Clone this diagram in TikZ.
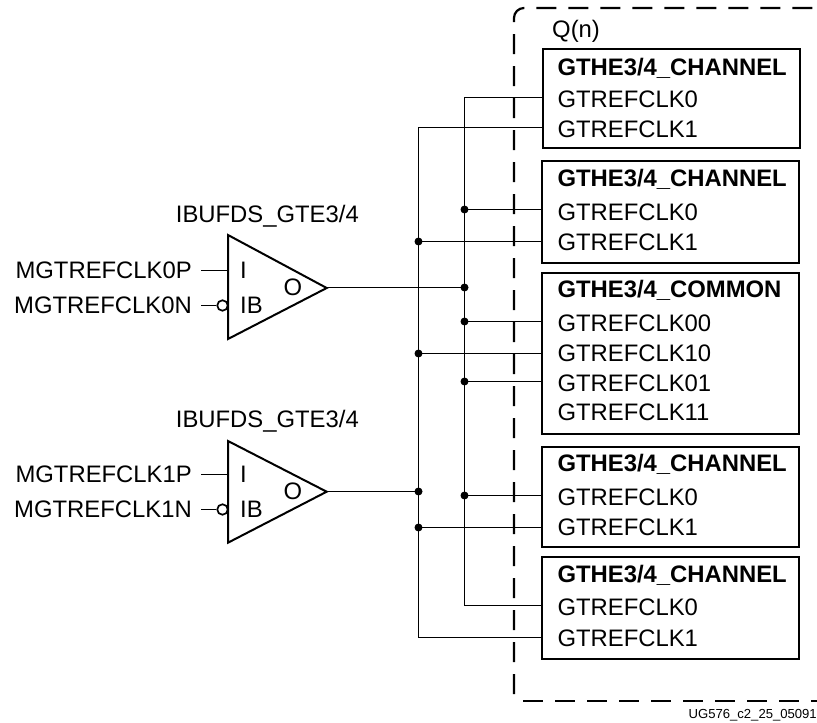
\documentclass[tikz,border=0pt]{standalone}
\usepackage{fontspec}
\setmainfont{Liberation Sans}
\tikzset{
  wire/.style={line width=1.2pt,line cap=rect},
  stub/.style={line width=1.5pt},
  qedge/.style={line width=2.2pt,dash pattern=on 20pt off 12pt,rounded corners=10pt},
  chanbox/.style={draw,line width=2.2pt,minimum width=257pt,inner sep=0pt},
  buffer/.style={line width=2pt,line join=miter},
  lbl/.style={font=\fontsize{23.85}{28}\selectfont,inner sep=0pt,text height=17pt,text depth=0pt},
  ttl/.style={lbl,font=\fontsize{23.85}{28}\selectfont\bfseries},
  dot/.style={circle,fill=black,inner sep=0pt,minimum size=8pt},
  bubble/.style={circle,draw,line width=1.7pt,fill=white,inner sep=0pt,minimum size=10.5pt}
}
\begin{document}
\begin{tikzpicture}[x=1pt,y=-1pt]
  \def\chantitle{GTHE3/4\_CHANNEL}
  \def\commontitle{GTHE3/4\_COMMON}
  \def\buftitle{IBUFDS\_GTE3/4}
  \def\busa{418.5}
  \def\busb{464.5}

  \useasboundingbox (0,0) rectangle (817,723);

  % quad outline
  \draw[qedge] (514,694) -- (514,8) -- (817,8);
  \draw[qedge] (523,701) -- (817,701);
  \node[lbl,anchor=west] (quad) at (552,29) {Q(n)};

  % boxes
  \node[chanbox,minimum height=99pt] (chan0) at (671.5,98.3) {};
  \node[chanbox,minimum height=102pt] (chan1) at (670.3,212) {};
  \node[chanbox,minimum height=161pt] (common) at (670.3,353.5) {};
  \node[chanbox,minimum height=100pt] (chan2) at (670.3,496.7) {};
  \node[chanbox,minimum height=102pt] (chan3) at (670.3,608) {};

  \foreach \n/\y in {chan0/67,chan1/177.7,chan2/462.7,chan3/574} {
    \node[ttl,anchor=west] (\n title) at (557.3,\y) {\chantitle};
  }
  \node[ttl,anchor=west] (commontitle) at (557.3,289.3) {\commontitle};

  \foreach \n/\y/\t in {p0/98.7/GTREFCLK0,p1/129/GTREFCLK1,p2/211.7/GTREFCLK0,p3/242/GTREFCLK1,
      p4/322.7/GTREFCLK00,p5/352.7/GTREFCLK10,p6/382.7/GTREFCLK01,p7/412.3/GTREFCLK11,
      p8/496.7/GTREFCLK0,p9/526.7/GTREFCLK1,p10/607.3/GTREFCLK0,p11/637.7/GTREFCLK1} {
    \node[lbl,anchor=west] (\n) at (557.3,\y) {\t};
  }

  % buffers
  \draw[buffer] (228,235) -- (326.7,288) -- (228,339) -- cycle;
  \draw[buffer] (228,441) -- (326.7,491.7) -- (228,542.7) -- cycle;
  \coordinate (out0) at (326.7,287.5);
  \coordinate (out1) at (326.7,491.5);

  \node[lbl,anchor=west] (buf0) at (175.7,214) {\buftitle};
  \node[lbl,anchor=west] (buf1) at (175.7,418.7) {\buftitle};

  \node[lbl,anchor=west] (i0) at (240,270) {I};
  \node[lbl,anchor=west] (ib0) at (240,305) {IB};
  \node[lbl] (o0) at (293,287) {O};
  \node[lbl,anchor=west] (i1) at (240,474) {I};
  \node[lbl,anchor=west] (ib1) at (240,509) {IB};
  \node[lbl] (o1) at (293,491) {O};

  % inputs
  \node[lbl,anchor=east] (ref0p) at (192,270) {MGTREFCLK0P};
  \node[lbl,anchor=east] (ref0n) at (192,305) {MGTREFCLK0N};
  \node[lbl,anchor=east] (ref1p) at (192,474) {MGTREFCLK1P};
  \node[lbl,anchor=east] (ref1n) at (192,509) {MGTREFCLK1N};

  \foreach \n/\y in {a/270.5,c/474.5} {
    \coordinate (s\n) at (201,\y);
    \coordinate (e\n) at (228,\y);
    \draw[stub] (s\n) -- (e\n);
  }
  \foreach \n/\y in {b/305.5,d/509.5} {
    \coordinate (s\n) at (201,\y);
    \node[bubble] (e\n) at (222.5,\y) {};
    \draw[stub] (s\n) -- (e\n);
  }

  % bus junctions
  \foreach \n/\y in {a0/127.5,a1/241.5,a2/353.5,a3/491.5,a4/527.5,a5/637.5} {
    \coordinate (\n) at (\busa,\y);
  }
  \foreach \n/\y in {b0/97.5,b1/209.5,b2/287.5,b3/321.5,b4/381.5,b5/495.5,b6/605.5} {
    \coordinate (\n) at (\busb,\y);
  }
  \draw[wire] (a0) -- (a5);
  \draw[wire] (b0) -- (b6);
  \draw[wire] (out0) -- (b2);
  \draw[wire] (out1) -- (a3);

  \foreach \n/\t in {a0/chan0,a1/chan1,a2/common,a4/chan2,a5/chan3,b0/chan0,b1/chan1,b3/common,b4/common,b5/chan2,b6/chan3} {
    \draw[wire] (\n) -- (\n -| \t.west);
  }
  \foreach \n in {a1,a2,a3,a4,b1,b2,b3,b4,b5} {
    \node[dot] (\n dot) at (\n) {};
  }

  \node[font=\fontsize{13.1}{16}\selectfont,inner sep=0pt,anchor=east] (figid) at (817,715.7) {UG576\_c2\_25\_05091};
\end{tikzpicture}
\end{document}
